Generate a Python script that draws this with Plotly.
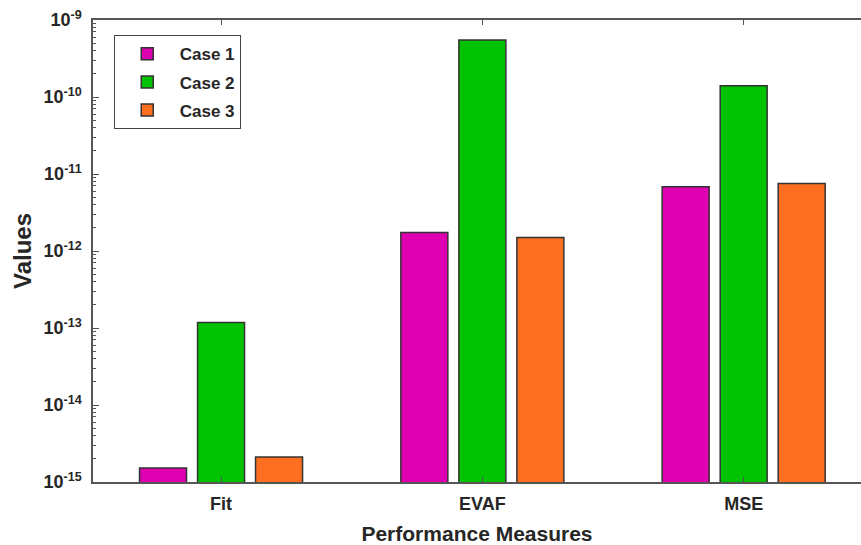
import plotly.graph_objects as go

categories = ["Fit", "EVAF", "MSE"]
series_names = ["Case 1", "Case 2", "Case 3"]
case1 = [1.52e-15, 1.74e-12, 6.83e-12]
case2 = [1.18e-13, 5.5e-10, 1.40e-10]
case3 = [2.11e-15, 1.50e-12, 7.55e-12]
colors = ["#DE00B0", "#00C200", "#FF6F22"]
y_tick_exps = [-15, -14, -13, -12, -11, -10, -9]

FONT = "Liberation Sans, Arial, sans-serif"

fig = go.Figure()
for name, vals, col in zip(series_names, [case1, case2, case3], colors):
    fig.add_trace(go.Bar(
        x=categories, y=vals, name=name, legendgroup=name,
        marker=dict(color=col, line=dict(color="#333333", width=1.5)),
    ))

minor_vals = [m * 10.0 ** e for e in range(-15, -9) for m in range(2, 10)]

fig.update_layout(
    width=861, height=545,
    margin=dict(l=93, r=0, t=20, b=63),
    paper_bgcolor="white", plot_bgcolor="white",
    barmode="group", bargap=0.334, bargroupgap=0.19,
    font=dict(family=FONT, color="#262626"),
    showlegend=True,
    legend=dict(
        x=0.027, y=0.967, xanchor="left", yanchor="top",
        bgcolor="white", bordercolor="#444444", borderwidth=1,
        itemwidth=55, tracegroupgap=3,
        font=dict(family=FONT, size=17, color="#262626", weight="bold"),
    ),
    xaxis=dict(
        range=[-0.49, 2.449], showline=True, linecolor="#555555", linewidth=1.5,
        mirror="allticks", ticks="inside", ticklen=5, tickcolor="#555555",
        automargin=False, ticklabelstandoff=5,
        tickfont=dict(family=FONT, size=18, color="#262626", weight="bold"),
        title=dict(text="Performance Measures", standoff=22,
                   font=dict(family=FONT, size=21, color="#262626", weight="bold")),
        showgrid=False,
    ),
    yaxis=dict(
        type="log", range=[-15, -9], showline=True, linecolor="#555555", linewidth=1.5,
        mirror=False, ticks="inside", ticklen=6, tickcolor="#555555",
        automargin=False, ticklabelstandoff=6, ticklabeloverflow="allow",
        tickvals=[10.0 ** e for e in y_tick_exps],
        ticktext=["10<sup>%d</sup>" % e for e in y_tick_exps],
        tickfont=dict(family=FONT, size=18, color="#262626", weight="bold"),
        minor=dict(tickvals=minor_vals, ticks="inside", ticklen=3, tickcolor="#555555"),
        title=dict(text="Values", standoff=5,
                   font=dict(family=FONT, size=24, color="#262626", weight="bold")),
        showgrid=False, zeroline=False,
    ),
)

fig.write_html("out.html", config={"displayModeBar": False},
               post_script="document.body.style.margin='0';")
